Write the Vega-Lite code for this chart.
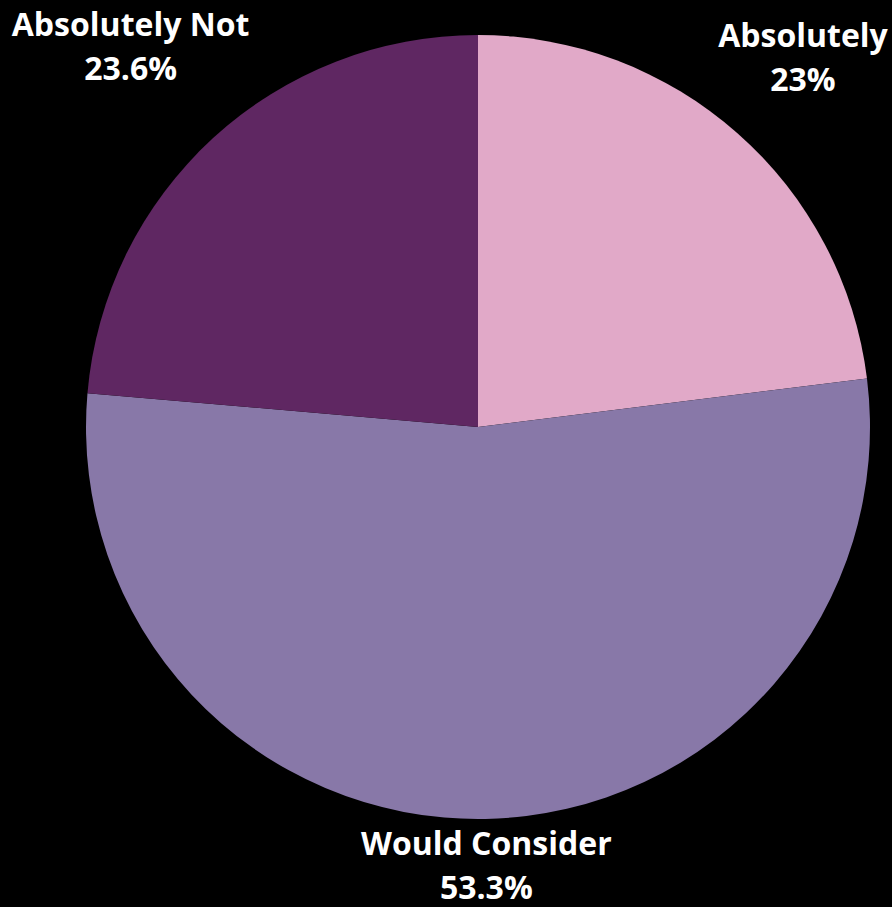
{
  "$schema": "https://vega.github.io/schema/vega-lite/v6.json",
  "width": 828,
  "height": 854,
  "autosize": "none",
  "padding": {"left": 64, "top": 0, "right": 0, "bottom": 53},
  "background": "#000000",
  "config": {"view": {"stroke": null}},
  "data": {"values": [
    {"cat": "Absolutely", "share": 0.23, "ord": 1},
    {"cat": "Would Consider", "share": 0.533, "ord": 2},
    {"cat": "Absolutely Not", "share": 0.236, "ord": 3}
  ]},
  "encoding": {
    "theta": {"field": "share", "type": "quantitative", "stack": true},
    "order": {"field": "ord", "type": "quantitative"},
    "detail": {"field": "cat", "type": "nominal"}
  },
  "layer": [
    {
      "mark": {"type": "arc", "outerRadius": 392},
      "encoding": {
        "color": {
          "field": "cat", "type": "nominal",
          "scale": {"domain": ["Absolutely", "Would Consider", "Absolutely Not"], "range": ["#E1A9C8", "#8878A8", "#5F2762"]},
          "legend": null
        }
      }
    },
    {
      "mark": {"type": "text", "font": "Open Sans", "fontWeight": "bold", "fontSize": 32, "fill": "#FFFFFF", "baseline": "middle", "align": "center", "dy": -22},
      "encoding": {
        "text": {"field": "cat", "type": "nominal"},
        "radius": {"value": {"expr": "datum.cat === 'Absolutely' ? 491 : datum.cat === 'Absolutely Not' ? 514 : 440"}}
      }
    },
    {
      "mark": {"type": "text", "font": "Open Sans", "fontWeight": "bold", "fontSize": 32, "fill": "#FFFFFF", "baseline": "middle", "align": "center", "dy": 22},
      "encoding": {
        "text": {"field": "share", "type": "quantitative", "format": ".1~%"},
        "radius": {"value": {"expr": "datum.cat === 'Absolutely' ? 491 : datum.cat === 'Absolutely Not' ? 514 : 440"}}
      }
    }
  ]
}
